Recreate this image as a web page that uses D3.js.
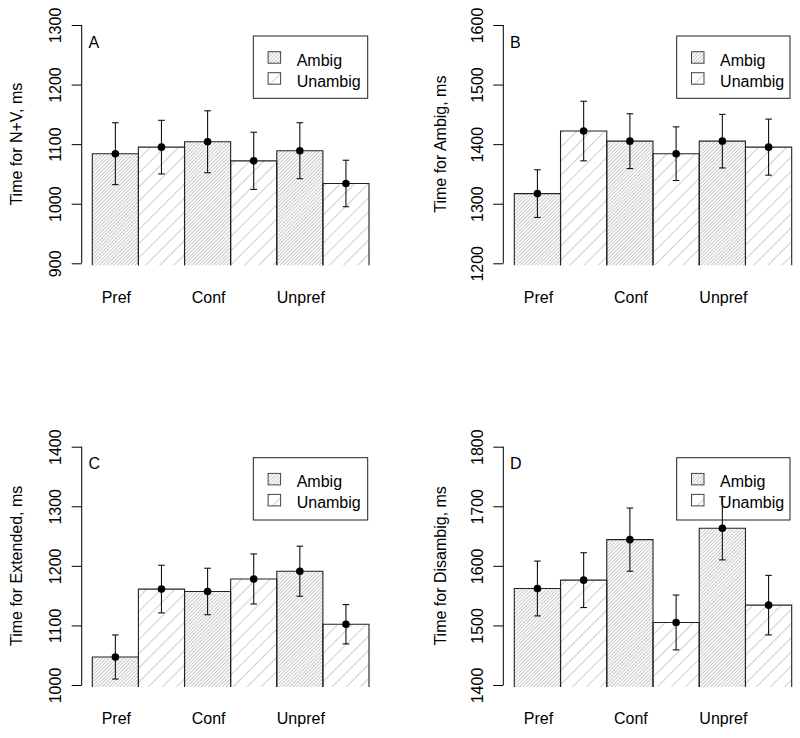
<!DOCTYPE html>
<html>
<head>
<meta charset="utf-8">
<script src="https://cdn.jsdelivr.net/npm/d3@7"></script>
<style>
  html, body { margin: 0; padding: 0; background: #fff; }
  svg { display: block; font-family: "Liberation Sans", Arial, Helvetica, sans-serif; }
</style>
</head>
<body>
<svg id="chart" width="800" height="738"></svg>
<script>
// ---- data ----
const categories = ["Pref", "Conf", "Unpref"];
const conditions = ["Ambig", "Unambig"];
const panelLetters = ["A", "B", "C", "D"];
const yLabels = ["Time for N+V, ms", "Time for Ambig, ms", "Time for Extended, ms", "Time for Disambig, ms"];

// bars ordered: Pref-Ambig, Pref-Unambig, Conf-Ambig, Conf-Unambig, Unpref-Ambig, Unpref-Unambig
const meansNV        = [1084, 1095, 1104, 1072, 1089, 1034];
const errNV          = [52, 45, 52, 48, 47, 39];
const meansAmbig     = [1317, 1422, 1405, 1384, 1405, 1395];
const errAmbig       = [40, 50, 46, 45, 45, 47];
const meansExtended  = [1047, 1161, 1157, 1178, 1191, 1102];
const errExtended    = [37, 40, 39, 42, 42, 33];
const meansDisambig  = [1562, 1576, 1644, 1505, 1663, 1534];
const errDisambig    = [46, 46, 53, 46, 53, 50];

const ticksNV        = [900, 1000, 1100, 1200, 1300];
const ticksAmbig     = [1200, 1300, 1400, 1500, 1600];
const ticksExtended  = [1000, 1100, 1200, 1300, 1400];
const ticksDisambig  = [1400, 1500, 1600, 1700, 1800];

// ---- layout ----
const svg = d3.select("#chart");
const defs = svg.append("defs");

function hatch(id, spacing, color, width) {
  const p = defs.append("pattern")
    .attr("id", id)
    .attr("patternUnits", "userSpaceOnUse")
    .attr("width", spacing).attr("height", spacing)
    .attr("patternTransform", "rotate(45)");
  p.append("rect").attr("width", spacing).attr("height", spacing).attr("fill", "#fff");
  p.append("line").attr("x1", 0.5).attr("y1", 0).attr("x2", 0.5).attr("y2", spacing)
    .attr("stroke", color).attr("stroke-width", width);
}
hatch("hAmbig", 2.5, "#b4b4b4", 0.75);
hatch("hUnambig", 10, "#cfcfcf", 1);
const fills = { Ambig: "url(#hAmbig)", Unambig: "url(#hUnambig)" };

const font = 16;
const rowShift = 421.7;
const panels = [
  { means: meansNV, err: errNV, ticks: ticksNV, axisX: 81.7, barX0: 92.3, barX1: 369, legX0: 253.3, legX1: 367.7, ylabX: 16, row: 0 },
  { means: meansAmbig, err: errAmbig, ticks: ticksAmbig, axisX: 503.3, barX0: 514.3, barX1: 791.7, legX0: 676.7, legX1: 790, ylabX: 440, row: 0 },
  { means: meansExtended, err: errExtended, ticks: ticksExtended, axisX: 81.7, barX0: 92.3, barX1: 369, legX0: 253.3, legX1: 367.7, ylabX: 16, row: 1 },
  { means: meansDisambig, err: errDisambig, ticks: ticksDisambig, axisX: 503.3, barX0: 514.3, barX1: 791.7, legX0: 676.7, legX1: 790, ylabX: 440, row: 1 }
];

panels.forEach((P, pi) => {
  const off = P.row * rowShift;
  const yTop = 25 + off, yBot = 263.3 + off;
  const y = d3.scaleLinear().domain([P.ticks[0], P.ticks[P.ticks.length - 1]]).range([yBot, yTop]);
  const bars = [];
  categories.forEach(c => conditions.forEach(k => bars.push({ cat: c, cond: k })));
  bars.forEach((b, i) => { b.mean = P.means[i]; b.err = P.err[i]; b.key = i; });
  const x = d3.scaleBand().domain(bars.map(b => b.key)).range([P.barX0, P.barX1]).padding(0);
  const g = svg.append("g");
  const barBottom = yBot + 2;

  // bars
  g.selectAll("rect.bar").data(bars).join("rect")
    .attr("x", b => x(b.key)).attr("y", b => y(b.mean))
    .attr("width", x.bandwidth()).attr("height", b => barBottom - y(b.mean))
    .attr("fill", b => fills[b.cond]);
  g.selectAll("path.barEdge").data(bars).join("path")
    .attr("d", b => {
      const x0 = x(b.key), x1 = x0 + x.bandwidth(), yt = y(b.mean);
      return `M${x0},${barBottom}V${yt}H${x1}V${barBottom}`;
    })
    .attr("fill", "none").attr("stroke", "#222").attr("stroke-width", 1.1);

  // y axis
  const axis = d3.axisLeft(y).tickValues(P.ticks).tickSize(10).tickPadding(0).tickFormat(d3.format("d"));
  const ag = g.append("g").attr("transform", `translate(${P.axisX},0)`).call(axis);
  ag.select(".domain").attr("d", `M0,${yBot}V${yTop}`).attr("stroke", "#000");
  ag.selectAll(".tick line").attr("stroke", "#000");
  ag.selectAll(".tick text")
    .attr("font-size", font).attr("fill", "#000").attr("font-family", null)
    .attr("text-anchor", "middle").attr("x", null).attr("dy", null)
    .attr("transform", "translate(-26,0) rotate(-90)")
    .attr("dominant-baseline", "central");

  // y label
  g.append("text")
    .attr("transform", `translate(${P.ylabX},${(yTop + yBot) / 2}) rotate(-90)`)
    .attr("text-anchor", "middle").attr("dominant-baseline", "central")
    .attr("font-size", font).text(yLabels[pi]);

  // category labels (under Ambig bars)
  g.selectAll("text.cat").data(bars.filter(b => b.cond === "Ambig")).join("text")
    .attr("x", b => x(b.key) + x.bandwidth() / 2 + 1).attr("y", 302.5 + off)
    .attr("text-anchor", "middle").attr("font-size", font).text(b => b.cat);

  // panel letter
  g.append("text").attr("x", P.axisX + 6.8).attr("y", 47.5 + off)
    .attr("font-size", font).text(panelLetters[pi]);

  // legend
  const ly0 = 36 + off, ly1 = 98.3 + off;
  g.append("rect").attr("x", P.legX0).attr("y", ly0)
    .attr("width", P.legX1 - P.legX0).attr("height", ly1 - ly0)
    .attr("fill", "#fff").attr("stroke", "#222").attr("stroke-width", 1);
  conditions.forEach((k, i) => {
    const cy = ly0 + 21.5 + i * 21;
    g.append("rect").attr("x", P.legX0 + 14.8).attr("y", cy - 5.8)
      .attr("width", 12.5).attr("height", 11.5)
      .attr("fill", fills[k]).attr("stroke", "#444").attr("stroke-width", 1);
    g.append("text").attr("x", P.legX0 + 43.4).attr("y", cy + 8.6 - 0.5)
      .attr("font-size", font).text(k);
  });

  // error bars
  const eg = g.append("g").attr("stroke", "#111").attr("stroke-width", 1.1);
  bars.forEach(b => {
    const cx = x(b.key) + x.bandwidth() / 2;
    const hi = y(b.mean + b.err), lo = y(b.mean - b.err);
    eg.append("line").attr("x1", cx).attr("x2", cx).attr("y1", hi).attr("y2", lo);
    eg.append("line").attr("x1", cx - 3.3).attr("x2", cx + 3.3).attr("y1", hi).attr("y2", hi);
    eg.append("line").attr("x1", cx - 3.3).attr("x2", cx + 3.3).attr("y1", lo).attr("y2", lo);
  });
  g.selectAll("circle.pt").data(bars).join("circle")
    .attr("cx", b => x(b.key) + x.bandwidth() / 2).attr("cy", b => y(b.mean))
    .attr("r", 3.8).attr("fill", "#000");
});
</script>
</body>
</html>
